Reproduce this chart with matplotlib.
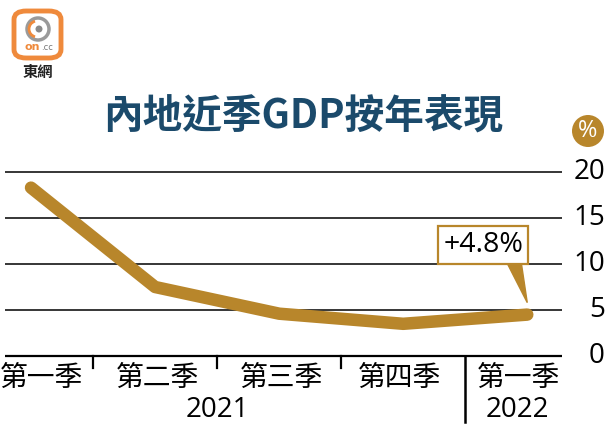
import matplotlib
matplotlib.use("Agg")
import matplotlib.pyplot as plt
from matplotlib.patches import FancyBboxPatch, Ellipse, Polygon, Arc
from matplotlib.transforms import blended_transform_factory

plt.rcParams['font.family'] = ['Noto Sans CJK TC', 'DejaVu Sans']

# ---- data ----
categories = ["第一季", "第二季", "第三季", "第四季", "第一季"]
years = ["2021", "2022"]
gdp_yoy = [18.3, 7.5, 4.6, 3.5, 4.5]
y_ticks = [0, 5, 10, 15, 20]
annot_text = "+4.8%"
title = "內地近季GDP按年表現"

GOLD = "#B8862B"
NAVY = "#1B4A6B"

W, H = 609, 426
fig = plt.figure(figsize=(W / 100, H / 100), dpi=100)
fig.patch.set_facecolor("white")

# axes: left px 0, right px 562, bottom px 356 (y=0), top px 172 (y=20)
ax = fig.add_axes([0, 1 - 356 / H, 562 / W, (356 - 172) / H])
ax.set_xlim(-0.25, 4.28)
ax.set_ylim(0, 20)
for s in ax.spines.values():
    s.set_visible(False)
ax.set_xticks([])
ax.set_yticks([])

x = list(range(len(gdp_yoy)))
tick_tr = blended_transform_factory(fig.transFigure, ax.transData)

# gridlines + baseline + tick labels
for yv in y_ticks:
    ax.plot([-0.21, 4.28], [yv, yv], color="black", lw=1.6 if yv == 0 else 1.1,
            zorder=1, clip_on=False, solid_capstyle="butt")
    ax.text(605 / W, yv, str(yv), transform=tick_tr, ha="right", va="center",
            fontsize=20, family=["Open Sans", "DejaVu Sans"], color="black")

# line
ax.plot(x, gdp_yoy, color=GOLD, lw=9, solid_capstyle="round",
        solid_joinstyle="round", zorder=3, clip_on=False)

# dividers
for xd in [0.5, 1.5, 2.5]:
    ax.plot([xd, xd], [0, -1.3], color="black", lw=1.6, clip_on=False)
ax.plot([3.5, 3.5], [0, -7.2], color="black", lw=1.8, clip_on=False)

# category labels
label_x = [-0.25, 1.02, 2.02, 2.97, 3.93]
for i, c in enumerate(categories):
    ax.text(label_x[i], -2.4, c, ha="left" if i == 0 else "center", va="center",
            fontsize=20, clip_on=False)
ax.text(1.5, -5.9, years[0], ha="center", va="center", fontsize=20,
        family=["Open Sans", "DejaVu Sans"])
ax.text(3.92, -5.9, years[1], ha="center", va="center", fontsize=20,
        family=["Open Sans", "DejaVu Sans"])

# annotation
tri = Polygon([[3.83, 10.3], [3.95, 10.3], [4.0, 5.8]], closed=True,
              facecolor=GOLD, edgecolor=GOLD, zorder=4)
ax.add_patch(tri)
ax.text(3.645, 12.07, annot_text, ha="center", va="center", fontsize=20.5,
        family=["Open Sans", "DejaVu Sans"], zorder=5,
        bbox=dict(boxstyle="square,pad=0.18", facecolor="white", edgecolor=GOLD, lw=1.6))

# title
fig.text(303 / W, 1 - 117 / H, title, ha="center", va="center", fontsize=28.5,
         fontweight="bold", color=NAVY)

# percent badge
fig.add_artist(Ellipse((588 / W, 1 - 131 / H), 32 / W, 32 / H,
                       transform=fig.transFigure, facecolor=GOLD, edgecolor="none"))
fig.text(588 / W, 1 - 131 / H, "%", ha="center", va="center", fontsize=17,
         color="white", family=["Open Sans", "DejaVu Sans"])

# logo
ORANGE = "#EF8A3C"
fig.add_artist(FancyBboxPatch((14 / W, 1 - 58 / H), 47 / W, 47 / H,
                              boxstyle="round,pad=0,rounding_size=0.02",
                              transform=fig.transFigure, facecolor="white",
                              edgecolor=ORANGE, lw=3.5))
fig.add_artist(Ellipse((38 / W, 1 - 29 / H), 22 / W, 22 / H, transform=fig.transFigure,
                       facecolor="none", edgecolor="#9A9A9A", lw=2.5))
fig.add_artist(Ellipse((39 / W, 1 - 29 / H), 7 / W, 7 / H, transform=fig.transFigure,
                       facecolor="#8A8A8A", edgecolor="none"))
fig.add_artist(Arc((37 / W, 1 - 29 / H), 16 / W, 16 / H, theta1=100, theta2=260,
                   transform=fig.transFigure, edgecolor=ORANGE, lw=2))
fig.text(32 / W, 1 - 47 / H, "on", ha="center", va="center", fontsize=8,
         fontweight="bold", color=ORANGE, family=["DejaVu Sans"])
fig.text(47 / W, 1 - 47 / H, ".cc", ha="center", va="center", fontsize=6,
         color="#777777", family=["DejaVu Sans"])
fig.text(38 / W, 1 - 72 / H, "東網", ha="center", va="center", fontsize=11,
         fontweight="bold", color="#222222")

fig.savefig("out.png", dpi=100, facecolor="white")
